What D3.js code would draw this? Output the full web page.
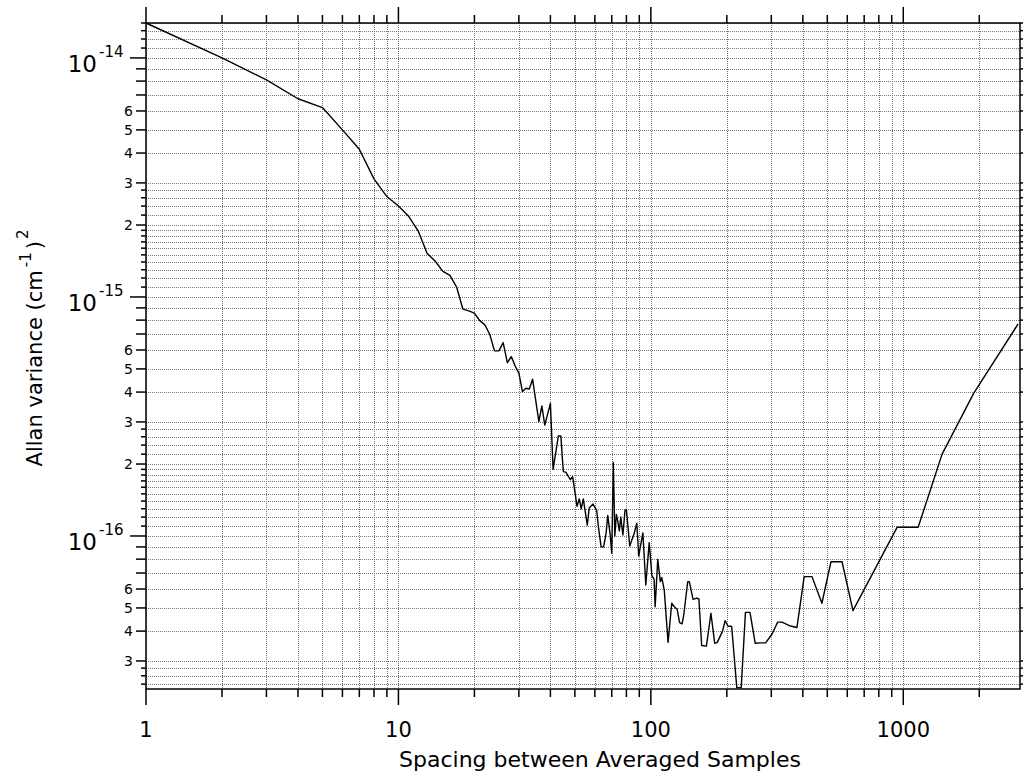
<!DOCTYPE html>
<html>
<head>
<meta charset="utf-8">
<script src="https://d3js.org/d3.v7.min.js"></script>
<style>
  body { margin: 0; background: #fff; }
  svg { display: block; }
  text { font-family: "DejaVu Sans", sans-serif; fill: #000; }
</style>
</head>
<body>
<svg id="chart" width="1023" height="771"></svg>
<script>
// averaging spacing (samples) and the Allan variance read at each one
const tau = [1, 2, 3, 4, 5, 6, 7, 8, 9, 10, 11, 12, 13, 14, 15, 16, 17, 18, 19, 20,
  21, 22, 23, 24, 25, 26, 27, 28, 29, 30, 31, 32, 33, 34, 36, 37, 38, 40, 41, 43,
  44, 45, 46, 48, 49, 51, 52, 53, 54, 56, 57, 59, 61, 62, 63.5, 65, 66.5, 67.5, 69, 70,
  71, 72, 73, 74, 75, 76, 77.5, 79, 80, 82.5, 84, 86, 88, 89.5, 91, 93, 95.5, 98.5, 101, 103,
  104, 106.5, 109, 110.5, 113, 117, 121, 125, 127, 130, 133, 135, 140, 142, 147, 152, 155, 159, 166, 173,
  179, 183, 192, 197, 202, 209, 219, 228, 237, 247, 259, 272, 285, 302, 318, 331, 357, 379, 405, 435,
  476, 517, 572, 632, 945, 1145, 1425, 1900, 2850];
const allanVar = [1.40e-14, 1.0e-14, 8.1e-15, 6.75e-15, 6.2e-15, 5.0e-15, 4.15e-15, 3.12e-15, 2.63e-15, 2.40e-15,
  2.17e-15, 1.88e-15, 1.52e-15, 1.41e-15, 1.28e-15, 1.23e-15, 1.10e-15, 8.9e-16, 8.75e-16, 8.55e-16,
  7.96e-16, 7.64e-16, 6.98e-16, 5.96e-16, 5.95e-16, 6.44e-16, 5.31e-16, 5.63e-16, 5.14e-16, 4.80e-16,
  4.02e-16, 4.15e-16, 4.12e-16, 4.53e-16, 3.01e-16, 3.50e-16, 2.91e-16, 3.59e-16, 1.90e-16, 2.62e-16,
  2.62e-16, 1.86e-16, 1.85e-16, 1.72e-16, 1.77e-16, 1.33e-16, 1.43e-16, 1.30e-16, 1.43e-16, 1.11e-16,
  1.31e-16, 1.36e-16, 1.28e-16, 1.09e-16, 9.02e-17, 9.0e-17, 1.03e-16, 1.22e-16, 1.01e-16, 8.47e-17,
  2.03e-16, 1.0e-16, 1.23e-16, 1.15e-16, 1.05e-16, 1.20e-16, 1.01e-16, 1.28e-16, 1.29e-16, 9.08e-17,
  9.6e-17, 1.03e-16, 1.13e-16, 8.24e-17, 9.1e-17, 1.03e-16, 6.24e-17, 9.38e-17, 6.8e-17, 6.6e-17,
  5.06e-17, 7.98e-17, 6.44e-17, 6.7e-17, 5.94e-17, 3.59e-17, 5.23e-17, 5.0e-17, 4.96e-17, 4.34e-17,
  4.29e-17, 4.67e-17, 6.44e-17, 6.44e-17, 5.43e-17, 5.5e-17, 5.45e-17, 3.48e-17, 3.46e-17, 4.75e-17,
  3.56e-17, 3.58e-17, 3.98e-17, 4.42e-17, 4.2e-17, 4.18e-17, 2.32e-17, 2.32e-17, 4.79e-17, 4.79e-17,
  3.56e-17, 3.57e-17, 3.57e-17, 3.89e-17, 4.36e-17, 4.36e-17, 4.2e-17, 4.14e-17, 6.76e-17, 6.76e-17,
  5.23e-17, 7.80e-17, 7.80e-17, 4.87e-17, 1.087e-16, 1.087e-16, 2.20e-16, 3.95e-16, 7.71e-16];

const xMajor = [1, 10, 100, 1000];
const xLabels = ["1", "10", "100", "1000"];
const yExponents = [-17, -16, -15, -14];
const yDecadeLabels = ["-16", "-15", "-14"];
const yLabelMantissas = [2, 3, 4, 5, 6];
const yMidMantissas = [7, 8, 9];
const ySmallMantissas = [1.1, 1.2, 1.3, 1.4, 1.5, 1.6, 1.7, 1.8, 1.9, 2.2, 2.4, 2.6, 2.8];

const xTitle = "Spacing between Averaged Samples";

const plotL = 146, plotR = 1020, plotT = 23, plotB = 689;

const svg = d3.select("#chart");

const x = d3.scaleLog().domain([1, 2900]).range([plotL, plotR]);
const y = d3.scaleLog().domain([2.29e-17, 1.4e-14]).range([plotB, plotT]);

// x tick values: 1..9 in every decade
const xTicks = [];
for (const m of xMajor) for (let k = 1; k <= 9; k++) {
  const v = m * k;
  if (v <= x.domain()[1]) xTicks.push(v);
}

// y tick values, with a size class
const yTicks = [];
const inRange = v => v >= y.domain()[0] * 0.999 && v <= y.domain()[1] * 1.001;
for (const e of yExponents) {
  const b = Math.pow(10, e);
  if (inRange(b) && e > -17) yTicks.push({v: b, kind: "major"});
  for (const m of yLabelMantissas) if (inRange(m * b)) yTicks.push({v: m * b, kind: "label", m: m});
  for (const m of yMidMantissas) if (inRange(m * b)) yTicks.push({v: m * b, kind: "mid"});
  for (const m of ySmallMantissas) if (inRange(m * b)) yTicks.push({v: m * b, kind: "small"});
}

// grid
const grid = svg.append("g")
  .attr("stroke", "#777")
  .attr("stroke-width", 1)
  .attr("stroke-dasharray", "1,1")
  .attr("shape-rendering", "crispEdges");

grid.selectAll(".vg")
  .data(xTicks)
  .join("line")
  .attr("x1", d => Math.round(x(d)) + 0.5)
  .attr("x2", d => Math.round(x(d)) + 0.5)
  .attr("y1", plotT)
  .attr("y2", plotB);

grid.selectAll(".hg")
  .data(yTicks)
  .join("line")
  .attr("x1", plotL)
  .attr("x2", plotR)
  .attr("y1", d => Math.round(y(d.v)) + 0.5)
  .attr("y2", d => Math.round(y(d.v)) + 0.5);

// data line
svg.append("path")
  .datum(tau.map((t, i) => [t, allanVar[i]]))
  .attr("fill", "none")
  .attr("stroke", "#000")
  .attr("stroke-width", 1.4)
  .attr("stroke-linejoin", "round")
  .attr("d", d3.line().x(d => x(d[0])).y(d => y(d[1])));

// frame
svg.append("rect")
  .attr("x", plotL)
  .attr("y", plotT)
  .attr("width", plotR - plotL)
  .attr("height", plotB - plotT)
  .attr("fill", "none")
  .attr("stroke", "#000")
  .attr("stroke-width", 1.5);

// ticks
const ticks = svg.append("g").attr("stroke", "#000").attr("stroke-width", 1.5);
const xLen = d => xMajor.includes(d) ? 16 : 8;
ticks.selectAll(".xb")
  .data(xTicks)
  .join("line")
  .attr("x1", d => x(d)).attr("x2", d => x(d))
  .attr("y1", plotB).attr("y2", d => plotB + xLen(d));
ticks.selectAll(".xt")
  .data(xTicks)
  .join("line")
  .attr("x1", d => x(d)).attr("x2", d => x(d))
  .attr("y1", plotT).attr("y2", d => plotT - xLen(d));

const yLen = d => d.kind === "major" ? 16 : (d.kind === "small" ? 5 : 10);
ticks.selectAll(".yl")
  .data(yTicks)
  .join("line")
  .attr("x1", plotL).attr("x2", d => plotL - yLen(d))
  .attr("y1", d => y(d.v)).attr("y2", d => y(d.v));
ticks.selectAll(".yr")
  .data(yTicks)
  .join("line")
  .attr("x1", plotR).attr("x2", d => plotR + yLen(d))
  .attr("y1", d => y(d.v)).attr("y2", d => y(d.v));

// x tick labels
svg.selectAll(".xlab")
  .data(xMajor)
  .join("text")
  .attr("x", d => x(d))
  .attr("y", 737)
  .attr("text-anchor", "middle")
  .attr("font-size", 21)
  .text((d, i) => xLabels[i]);

// y tick labels: decades
const decades = yTicks.filter(d => d.kind === "major");
svg.selectAll(".ydec")
  .data(decades)
  .join("text")
  .attr("x", 97)
  .attr("y", d => y(d.v) + 14)
  .attr("text-anchor", "end")
  .attr("font-size", 23)
  .text("10");
svg.selectAll(".ysup")
  .data(decades)
  .join("text")
  .attr("x", 99)
  .attr("y", d => y(d.v) - 1)
  .attr("font-size", 15)
  .text((d, i) => yDecadeLabels[i]);

// y tick labels: 2..6
svg.selectAll(".ymin")
  .data(yTicks.filter(d => d.kind === "label"))
  .join("text")
  .attr("x", 133)
  .attr("y", d => y(d.v))
  .attr("dy", "0.36em")
  .attr("text-anchor", "end")
  .attr("font-size", 14)
  .text(d => d.m);

// axis titles
svg.append("text")
  .attr("x", 600)
  .attr("y", 767)
  .attr("text-anchor", "middle")
  .attr("font-size", 22)
  .text(xTitle);

const yt = svg.append("text")
  .attr("transform", "translate(42,348) rotate(-90)")
  .attr("text-anchor", "middle")
  .attr("font-size", 21);
yt.append("tspan").text("Allan variance (cm");
yt.append("tspan").attr("dx", 3).attr("dy", -11).attr("font-size", 15).text("-1");
yt.append("tspan").attr("dx", 3).attr("dy", 11).text(")");
yt.append("tspan").attr("dx", 2).attr("dy", -14).attr("font-size", 15).text("2");
</script>
</body>
</html>
